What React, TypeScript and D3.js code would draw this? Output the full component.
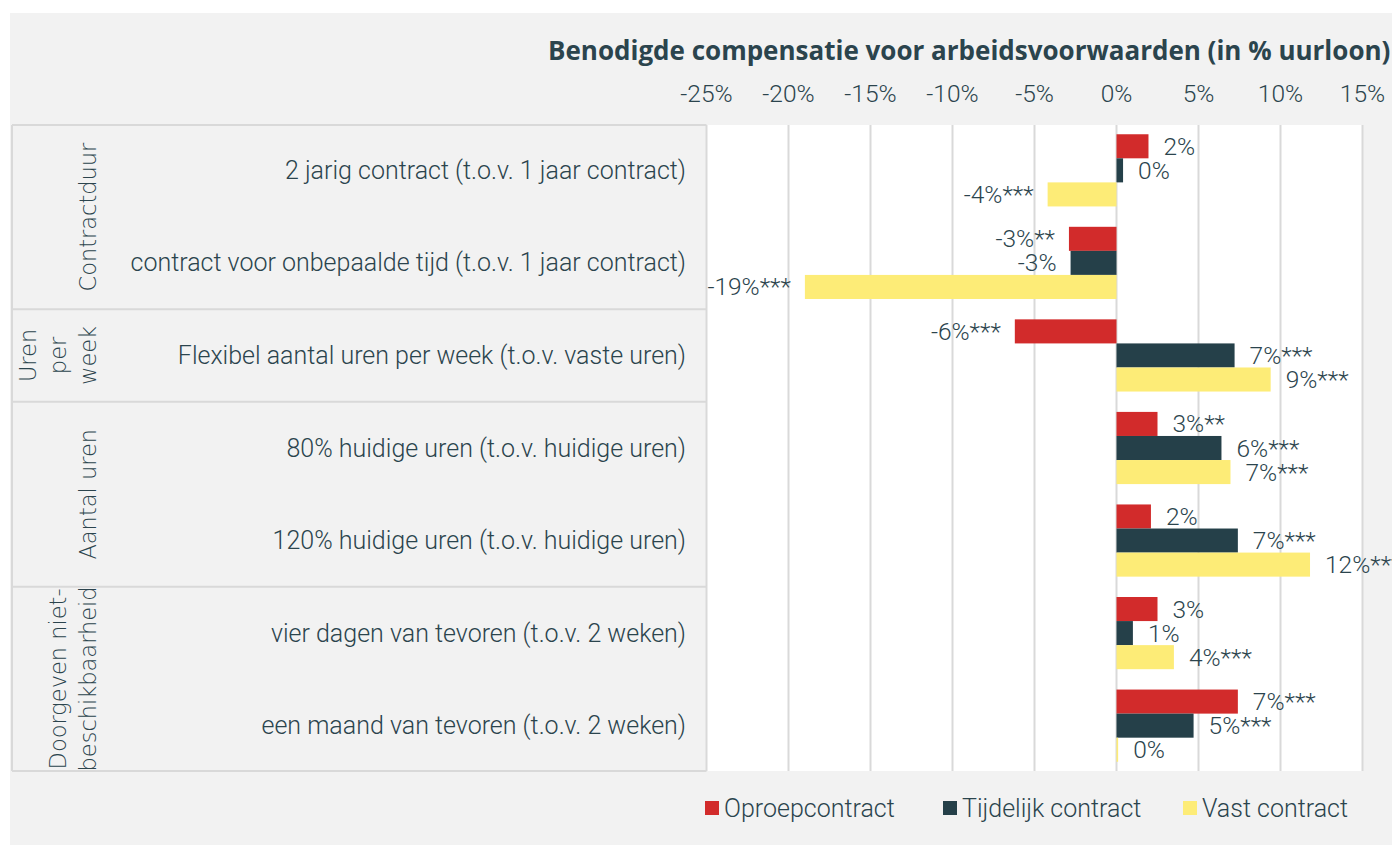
import React from 'react';
import * as d3 from 'd3';

// data
const categories = [
  '2 jarig contract (t.o.v. 1 jaar contract)',
  'contract voor onbepaalde tijd (t.o.v. 1 jaar contract)',
  'Flexibel aantal uren per week (t.o.v. vaste uren)',
  '80% huidige uren (t.o.v. huidige uren)',
  '120% huidige uren (t.o.v. huidige uren)',
  'vier dagen van tevoren (t.o.v. 2 weken)',
  'een maand van tevoren (t.o.v. 2 weken)'
];
const seriesNames = ['Oproepcontract', 'Tijdelijk contract', 'Vast contract'];
const seriesColors = ['#d22b2b', '#254049', '#fdec77'];

const oproep = [1.95, -2.9, -6.2, 2.5, 2.1, 2.5, 7.4];
const tijdelijk = [0.4, -2.8, 7.2, 6.4, 7.4, 1.0, 4.7];
const vast = [-4.2, -19.0, 9.4, 6.95, 11.8, 3.5, 0.1];

const oproepLabels = ['2%', '-3%**', '-6%***', '3%**', '2%', '3%', '7%***'];
const tijdelijkLabels = ['0%', '-3%', '7%***', '6%***', '7%***', '1%', '5%***'];
const vastLabels = ['-4%***', '-19%***', '9%***', '7%***', '12%***', '4%***', '0%'];

const groupNames = [['Contractduur'], ['Uren', 'per', 'week'], ['Aantal uren'], ['Doorgeven niet-', 'beschikbaarheid']];
const groupRanges = [[0, 1], [2, 2], [3, 4], [5, 6]];

const ticks = [-25, -20, -15, -10, -5, 0, 5, 10, 15];
const title = 'Benodigde compensatie voor arbeidsvoorwaarden (in % uurloon)';

const W = 1392;
const H = 845;
const plot = { left: 706.5, right: 1362.5, top: 125, bottom: 771 };
const panelLeft = 12;
const textColor = '#2b444d';
const lineColor = '#d9d9d9';
const narrow = 'Roboto, "Liberation Sans", sans-serif';
const wide = '"DejaVu Sans", "Open Sans", sans-serif';
const fs = 24.5;

export default function App() {
  const x = d3.scaleLinear().domain([-25, 15]).range([plot.left, plot.right]);
  const y = d3.scaleBand<number>()
    .domain(d3.range(categories.length))
    .range([plot.top, plot.bottom])
    .paddingInner(0.22)
    .paddingOuter(0.1);
  const sub = d3.scaleBand<number>().domain([0, 1, 2]).range([0, y.bandwidth()]);
  const values = [oproep, tijdelijk, vast];
  const labels = [oproepLabels, tijdelijkLabels, vastLabels];
  const gap = y.step() * y.paddingInner() / 2;

  const sepY = (i: number) => (i === 0 ? plot.top : (y(i) as number) - gap);
  const boundaries = [plot.top, ...groupRanges.slice(1).map(r => sepY(r[0])), plot.bottom];

  const legendX = [705, 943, 1183];

  return (
    <svg width={W} height={H} style={{ position: 'absolute', left: 0, top: 0, background: '#fff' }}>
      <rect x={10} y={13} width={W - 10} height={H - 13} fill="#f2f2f2" />
      <rect x={plot.left} y={plot.top} width={plot.right - plot.left} height={plot.bottom - plot.top} fill="#fff" />

      <text x={548} y={50} fill={textColor} fontFamily='"Open Sans", Lato, sans-serif' fontWeight={700} fontSize={26} dominantBaseline="central">
        {title}
      </text>

      {ticks.map(t => (
        <g key={t}>
          <line x1={x(t)} x2={x(t)} y1={plot.top} y2={plot.bottom} stroke={lineColor} strokeWidth={2} />
          <text x={x(t)} y={93} textAnchor="middle" dominantBaseline="central" fill={textColor} fontFamily={narrow} fontWeight={300} fontSize={fs}>
            {t + '%'}
          </text>
        </g>
      ))}

      {/* left panel lines */}
      <line x1={panelLeft} x2={panelLeft} y1={plot.top} y2={plot.bottom} stroke={lineColor} strokeWidth={2} />
      {boundaries.map((b, i) => (
        <line key={i} x1={panelLeft} x2={plot.left} y1={b} y2={b} stroke={lineColor} strokeWidth={2} />
      ))}

      {groupNames.map((lines, gi) => {
        const cy = (boundaries[gi] + boundaries[gi + 1]) / 2;
        return lines.map((ln, li) => {
          const lx = 88 - (lines.length - 1 - li) * 30;
          return (
            <text key={gi + '-' + li} transform={`translate(${lx},${cy}) rotate(-90)`} textAnchor="middle"
              dominantBaseline="central" fill={textColor} fontFamily={wide} fontWeight={300} fontSize={22.5}>
              {ln}
            </text>
          );
        });
      })}

      {categories.map((c, i) => (
        <text key={c} x={686} y={(y(i) as number) + y.bandwidth() / 2} textAnchor="end" dominantBaseline="central"
          fill={textColor} fontFamily={narrow} fontWeight={300} fontSize={25}>
          {c}
        </text>
      ))}

      {values.map((vals, s) => (
        <g key={s}>
          {vals.map((v, i) => {
            const by = (y(i) as number) + (sub(s) as number);
            const x0 = x(Math.min(0, v));
            const w = Math.abs(x(v) - x(0));
            const pos = v >= 0;
            return (
              <g key={i}>
                <rect x={x0} y={by} width={w} height={sub.bandwidth()} fill={seriesColors[s]} />
                <text x={pos ? x(v) + 15 : x(v) - 14} y={by + sub.bandwidth() / 2} textAnchor={pos ? 'start' : 'end'}
                  dominantBaseline="central" fill={textColor} fontFamily={narrow} fontWeight={300} fontSize={fs}>
                  {labels[s][i]}
                </text>
              </g>
            );
          })}
        </g>
      ))}

      {seriesNames.map((n, i) => (
        <g key={n}>
          <rect x={legendX[i]} y={801} width={14} height={14} fill={seriesColors[i]} />
          <text x={legendX[i] + 19} y={808} dominantBaseline="central" fill={textColor} fontFamily={narrow} fontWeight={300} fontSize={25}>
            {n}
          </text>
        </g>
      ))}
    </svg>
  );
}
